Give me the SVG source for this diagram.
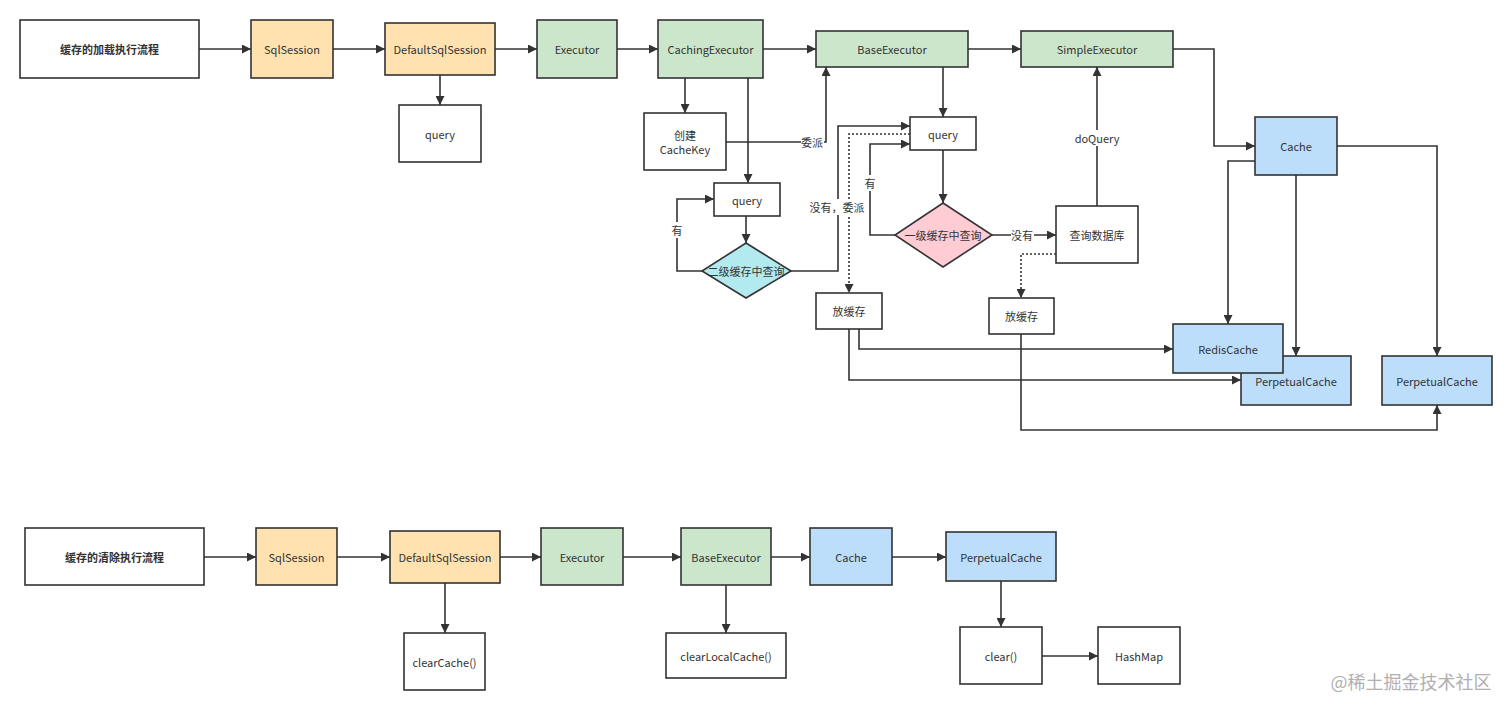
<svg xmlns="http://www.w3.org/2000/svg" width="1512" height="711" viewBox="0 0 1512 711">
<defs>
<marker id="arr" viewBox="0 0 10 10" refX="10" refY="5" markerWidth="10" markerHeight="9" markerUnits="userSpaceOnUse" orient="auto">
<path d="M0 0 L10 5 L0 10 Z" fill="#333"/>
</marker>
</defs>
<style>
text{font-family:"Noto Sans CJK SC","Noto Sans",sans-serif;font-size:11px;fill:#333;text-anchor:middle;dominant-baseline:central}
.b{stroke:#333;stroke-width:1.6}
.w{fill:#fff}
.o{fill:#ffe2b0}
.g{fill:#cbe6ca}
.bl{fill:#bcdefa}
.pk{fill:#ffccd4}
.cy{fill:#b2eaf0}
.t{font-weight:bold}
.c{fill:none;stroke:#333;stroke-width:1.6;marker-end:url(#arr)}
.n{fill:none;stroke:#333;stroke-width:1.6}
.d{fill:none;stroke:#333;stroke-width:1.6;stroke-dasharray:2 2;marker-end:url(#arr)}
.lb{fill:#fff}
</style>
<rect width="1512" height="711" fill="#fff"/>
<g id="connectors">
<path class="c" d="M199 49 H251"/>
<path class="c" d="M333 49 H385"/>
<path class="c" d="M495 49 H537"/>
<path class="c" d="M617 49 H658"/>
<path class="c" d="M763 49 H816"/>
<path class="c" d="M968 49 H1021"/>
<path class="c" d="M440 75 V105"/>
<path class="c" d="M685 78 V113"/>
<path class="c" d="M748 78 V183"/>
<path class="c" d="M726 142 H826 V67"/>
<path class="c" d="M746 216 V243"/>
<path class="c" d="M702 271 H677 V199 H714"/>
<path class="c" d="M791 271 H838 V126 H910"/>
<path class="d" d="M910 134 H849 V293"/>
<path class="c" d="M943 67 V117"/>
<path class="c" d="M943 150 V203"/>
<path class="c" d="M895 235 H870 V144 H910"/>
<path class="c" d="M992 235 H1056"/>
<path class="c" d="M1097 206 V67"/>
<path class="d" d="M1056 254 H1021 V298"/>
<path class="c" d="M1173 49 H1214 V146 H1255"/>
<path class="c" d="M1255 161 H1228 V324"/>
<path class="c" d="M1296 175 V356"/>
<path class="c" d="M1337 146 H1437 V356"/>
<path class="c" d="M859 329 V349 H1173"/>
<path class="c" d="M849 329 V380 H1241"/>
<path class="c" d="M1021 334 V430 H1437 V405"/>
<path class="c" d="M204 557 H256"/>
<path class="c" d="M337 557 H390"/>
<path class="c" d="M500 557 H541"/>
<path class="c" d="M623 557 H681"/>
<path class="c" d="M771 557 H810"/>
<path class="c" d="M892 557 H946"/>
<path class="c" d="M445 583 V633"/>
<path class="c" d="M726 585 V633"/>
<path class="c" d="M1001 581 V627"/>
<path class="c" d="M1042 656 H1098"/>
<rect class="lb" x="801" y="134" width="23" height="16"/>
<text x="812" y="142">委派</text>
<rect class="lb" x="671" y="222" width="12" height="16"/>
<text x="677" y="230">有</text>
<rect class="lb" x="810" y="199" width="54" height="16"/>
<text x="837" y="207">没有，委派</text>
<rect class="lb" x="864" y="175" width="12" height="16"/>
<text x="870" y="183">有</text>
<rect class="lb" x="1011" y="227" width="23" height="16"/>
<text x="1022" y="235">没有</text>
<rect class="lb" x="1074" y="130" width="46" height="16"/>
<text x="1097" y="138">doQuery</text>
</g>
<g id="title1"><rect class="b w" x="20" y="20" width="179" height="58"/><text class="t" x="109.5" y="49">缓存的加载执行流程</text></g>
<g id="sqlsession1"><rect class="b o" x="251" y="20" width="82" height="58"/><text x="292" y="49">SqlSession</text></g>
<g id="defaultsqlsession1"><rect class="b o" x="385" y="23" width="110" height="52"/><text x="440" y="49">DefaultSqlSession</text></g>
<g id="query0"><rect class="b w" x="399" y="105" width="82" height="57"/><text x="440" y="134">query</text></g>
<g id="executor1"><rect class="b g" x="537" y="20" width="80" height="58"/><text x="577" y="49">Executor</text></g>
<g id="cachingexecutor"><rect class="b g" x="658" y="20" width="105" height="58"/><text x="710.5" y="49">CachingExecutor</text></g>
<g id="baseexecutor1"><rect class="b g" x="816" y="31" width="152" height="36"/><text x="892" y="49">BaseExecutor</text></g>
<g id="simpleexecutor"><rect class="b g" x="1021" y="31" width="152" height="36"/><text x="1097" y="49">SimpleExecutor</text></g>
<g id="cachekey"><rect class="b w" x="644" y="113" width="82" height="57"/><text x="685" y="135">创建</text><text x="685" y="149">CacheKey</text></g>
<g id="query2"><rect class="b w" x="714" y="183" width="66" height="33"/><text x="747" y="199.5">query</text></g>
<g id="l2lookup"><path class="b cy" d="M746 243 L791 271 L746 298 L702 271 Z"/><text x="746" y="271">二级缓存中查询</text></g>
<g id="query1"><rect class="b w" x="910" y="117" width="66" height="33"/><text x="943" y="133.5">query</text></g>
<g id="l1lookup"><path class="b pk" d="M943 203 L992 235 L943 267 L895 235 Z"/><text x="943" y="235">一级缓存中查询</text></g>
<g id="querydb"><rect class="b w" x="1056" y="206" width="82" height="57"/><text x="1097" y="235">查询数据库</text></g>
<g id="putcache1"><rect class="b w" x="816" y="293" width="66" height="36"/><text x="849" y="311">放缓存</text></g>
<g id="putcache2"><rect class="b w" x="989" y="298" width="65" height="36"/><text x="1021.5" y="316">放缓存</text></g>
<g id="cache1"><rect class="b bl" x="1255" y="117" width="82" height="58"/><text x="1296" y="146">Cache</text></g>
<g id="perpetualcache1"><rect class="b bl" x="1241" y="356" width="110" height="49"/><text x="1296" y="381">PerpetualCache</text></g>
<g id="rediscache"><rect class="b bl" x="1173" y="324" width="110" height="49"/><text x="1228" y="349">RedisCache</text></g>
<g id="perpetualcache2"><rect class="b bl" x="1382" y="356" width="110" height="49"/><text x="1437" y="381">PerpetualCache</text></g>
<g id="title2"><rect class="b w" x="25" y="528" width="179" height="57"/><text class="t" x="114.5" y="557">缓存的清除执行流程</text></g>
<g id="sqlsession2"><rect class="b o" x="256" y="528" width="81" height="57"/><text x="296.5" y="557">SqlSession</text></g>
<g id="defaultsqlsession2"><rect class="b o" x="390" y="531" width="110" height="52"/><text x="445" y="557">DefaultSqlSession</text></g>
<g id="clearcache"><rect class="b w" x="404" y="633" width="81" height="57"/><text x="444.5" y="662">clearCache()</text></g>
<g id="executor2"><rect class="b g" x="541" y="528" width="82" height="57"/><text x="582" y="557">Executor</text></g>
<g id="baseexecutor2"><rect class="b g" x="681" y="528" width="90" height="57"/><text x="726" y="557">BaseExecutor</text></g>
<g id="clearlocalcache"><rect class="b w" x="666" y="633" width="120" height="45"/><text x="726" y="656">clearLocalCache()</text></g>
<g id="cache2"><rect class="b bl" x="810" y="528" width="82" height="57"/><text x="851" y="557">Cache</text></g>
<g id="perpetualcache3"><rect class="b bl" x="946" y="532" width="110" height="49"/><text x="1001" y="557">PerpetualCache</text></g>
<g id="clear"><rect class="b w" x="960" y="627" width="82" height="57"/><text x="1001" y="656">clear()</text></g>
<g id="hashmap"><rect class="b w" x="1098" y="627" width="82" height="57"/><text x="1139" y="656">HashMap</text></g>
<text x="1411" y="681" style="font-size:18px;fill:#b0b0b0">@稀土掘金技术社区</text>
</svg>
